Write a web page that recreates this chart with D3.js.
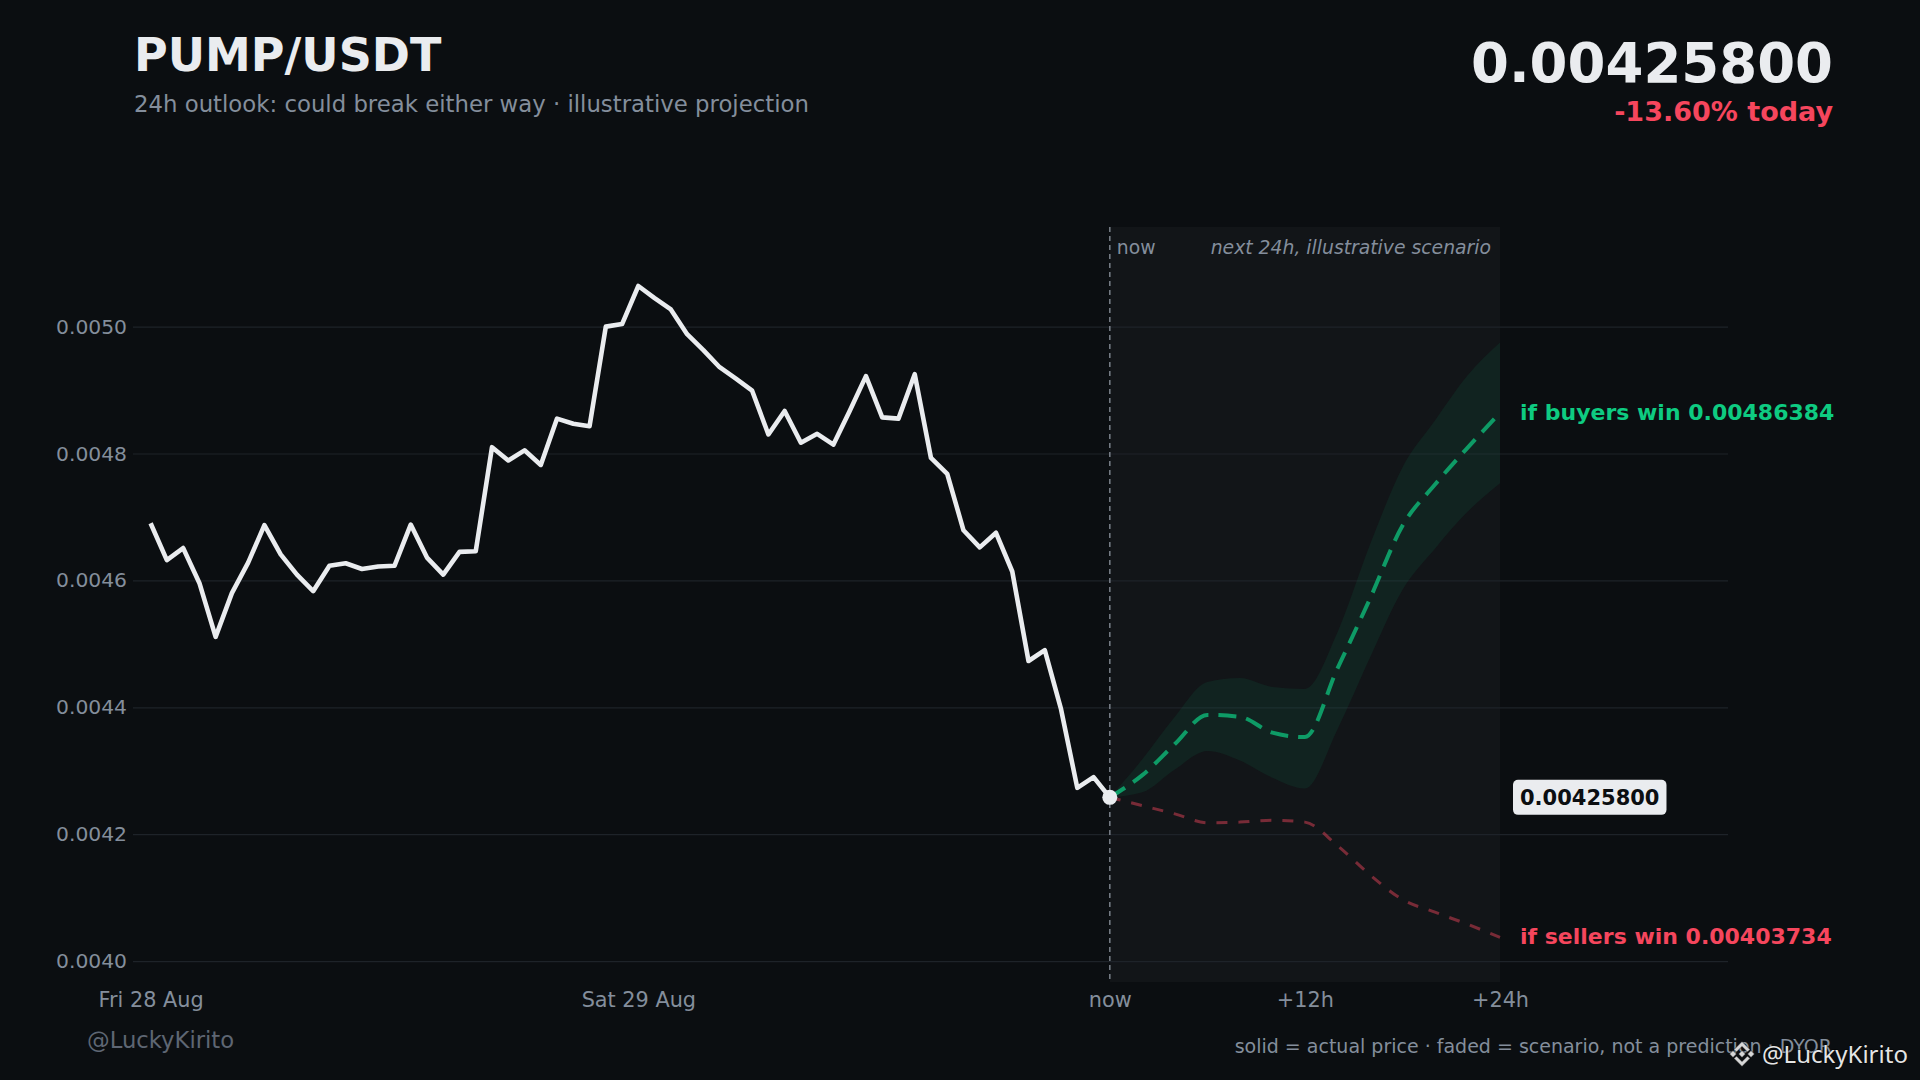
<!DOCTYPE html>
<html>
<head>
<meta charset="utf-8">
<script src="https://cdn.jsdelivr.net/npm/d3@7"></script>
<style>
  html, body { margin: 0; padding: 0; background: #0b0e11; }
  svg { display: block; font-family: "DejaVu Sans", sans-serif; }
</style>
</head>
<body>
<svg id="chart" width="1920" height="1080"></svg>
<script>
// actual price, one point per step up to "now"
var priceHistory = [
  0.004690, 0.004632, 0.004651, 0.004596, 0.004511, 0.004580, 0.004628, 0.004687, 0.004641, 0.004609,
  0.004583, 0.004623, 0.004627, 0.004618, 0.004622, 0.004623, 0.004688, 0.004636, 0.004609, 0.004645,
  0.004646, 0.004810, 0.004789, 0.004805, 0.004782, 0.004855, 0.004847, 0.004843, 0.005000, 0.005004,
  0.005064, 0.005045, 0.005027, 0.004988, 0.004963, 0.004936, 0.004918, 0.004899, 0.004830, 0.004867,
  0.004817, 0.004831, 0.004814, 0.004867, 0.004922, 0.004857, 0.004855, 0.004925, 0.004793, 0.004768,
  0.004679, 0.004652, 0.004675, 0.004614, 0.004473, 0.004490, 0.004397, 0.004273, 0.004290, 0.004258
];

// illustrative scenario, hours after now
var scenarioHours = [0, 2, 4, 6, 8, 10, 12, 14, 16, 18, 20, 22, 24];
var buyersMid  = [0.004258, 0.004293, 0.004342, 0.004388, 0.004385, 0.004360, 0.004353, 0.004461, 0.004571, 0.004686, 0.004751, 0.004809, 0.00486384];
var buyersHigh = [0.004258, 0.004318, 0.004385, 0.004440, 0.004446, 0.004432, 0.004429, 0.004518, 0.004656, 0.004778, 0.004852, 0.004923, 0.004975];
var buyersLow  = [0.004258, 0.004266, 0.004302, 0.004331, 0.004316, 0.004289, 0.004272, 0.004365, 0.004478, 0.004585, 0.004650, 0.004708, 0.004753];
var sellersMid = [0.004258, 0.004245, 0.004232, 0.004218, 0.004219, 0.004222, 0.004219, 0.004182, 0.004136, 0.004097, 0.004077, 0.004058, 0.00403734];

var yTicks = [0.0040, 0.0042, 0.0044, 0.0046, 0.0048, 0.0050];
var xTickIdx = [0, 30, 59, 71, 83];
var xTickLabels = ["Fri 28 Aug", "Sat 29 Aug", "now", "+12h", "+24h"];

var pair = "PUMP/USDT";
var changeToday = -13.60;

var green = "#0ecb81", red = "#f6465d", light = "#eaecef", muted = "#848e9c";

var svg = d3.select("#chart");
var plot = {left: 133, right: 1728, top: 227, bottom: 982};
var nowIdx = priceHistory.length - 1;
var lastIdx = nowIdx + scenarioHours[scenarioHours.length - 1];
var lastPrice = priceHistory[nowIdx];
var end = scenarioHours.length - 1;

var x = d3.scaleLinear().domain([0, lastIdx]).range([150.6, 1500]);
var y = d3.scaleLinear().domain([0.003967, 0.005157]).range([plot.bottom, plot.top]);

svg.append("rect").attr("width", 1920).attr("height", 1080).attr("fill", "#0b0e11");

  // shaded future window
svg.append("rect")
    .attr("x", x(nowIdx))
    .attr("y", plot.top)
    .attr("width", x(lastIdx) - x(nowIdx))
    .attr("height", plot.bottom - plot.top)
    .attr("fill", "#ffffff")
    .attr("fill-opacity", 0.03);

  // y axis + grid
var yAxis = svg.append("g")
    .attr("class", "axis left")
    .attr("transform", "translate(" + plot.left + ",0)")
    .call(d3.axisLeft(y).tickValues(yTicks).tickSize(-(plot.right - plot.left)).tickPadding(6).tickFormat(d3.format(".4f")));
yAxis.select(".domain").remove();
yAxis.attr("font-size", 20.3).attr("font-family", "DejaVu Sans");
yAxis.selectAll("line").attr("stroke", "#1e2329").attr("stroke-width", 1.2);
yAxis.selectAll("text").attr("fill", muted);

  // x axis, index based
var xAxis = svg.append("g")
    .attr("class", "axis bottom")
    .attr("transform", "translate(0," + plot.bottom + ")")
    .call(d3.axisBottom(x).tickValues(xTickIdx).tickSize(0).tickPadding(10)
      .tickFormat(function(d, i) { return xTickLabels[i]; }));
xAxis.select(".domain").remove();
xAxis.attr("font-size", 20.8).attr("font-family", "DejaVu Sans");
xAxis.selectAll("text").attr("fill", muted);

  // now marker
svg.append("line")
    .attr("x1", x(nowIdx)).attr("x2", x(nowIdx))
    .attr("y1", plot.top).attr("y2", plot.bottom)
    .attr("stroke", "#7a808a")
    .attr("stroke-width", 1.5)
    .attr("stroke-dasharray", "5,4");

svg.append("text")
    .attr("x", x(nowIdx) + 7).attr("y", 254)
    .attr("font-size", 18.8).attr("fill", muted)
    .text("now");

svg.append("text")
    .attr("x", x(lastIdx) - 9).attr("y", 254)
    .attr("font-size", 18.8).attr("font-style", "italic")
    .attr("text-anchor", "end").attr("fill", muted)
    .text("next 24h, illustrative scenario");

var scenario = scenarioHours.map(function(h, i) {
  return {h: h, mid: buyersMid[i], hi: buyersHigh[i], lo: buyersLow[i], sell: sellersMid[i]};
});
var sx = function(d) { return x(nowIdx + d.h); };

svg.append("path")
    .datum(scenario)
    .attr("fill", green)
    .attr("fill-opacity", 0.08)
    .attr("d", d3.area().x(sx).y0(function(d) { return y(d.lo); }).y1(function(d) { return y(d.hi); }).curve(d3.curveMonotoneX));

svg.append("path")
    .datum(scenario)
    .attr("fill", "none")
    .attr("stroke", red)
    .attr("stroke-opacity", 0.45)
    .attr("stroke-width", 3)
    .attr("stroke-dasharray", "11,11")
    .attr("d", d3.line().x(sx).y(function(d) { return y(d.sell); }).curve(d3.curveMonotoneX));

svg.append("path")
    .datum(scenario)
    .attr("fill", "none")
    .attr("stroke", green)
    .attr("stroke-opacity", 0.72)
    .attr("stroke-width", 4)
    .attr("stroke-dasharray", "18,10")
    .attr("d", d3.line().x(sx).y(function(d) { return y(d.mid); }).curve(d3.curveMonotoneX));

  // actual price
svg.append("path")
    .datum(priceHistory)
    .attr("fill", "none")
    .attr("stroke", light)
    .attr("stroke-width", 4.6)
    .attr("stroke-linejoin", "round")
    .attr("d", d3.line().x(function(d, i) { return x(i); }).y(function(d) { return y(d); }));

svg.append("circle")
    .attr("cx", x(nowIdx)).attr("cy", y(lastPrice))
    .attr("r", 7.5).attr("fill", light);

  // scenario end labels
svg.append("text")
    .attr("x", x(lastIdx) + 20).attr("y", y(buyersMid[end])).attr("dy", "0.3em")
    .attr("font-size", 22).attr("font-weight", "bold").attr("fill", green)
    .text("if buyers win " + buyersMid[end].toFixed(8));

svg.append("text")
    .attr("x", x(lastIdx) + 20).attr("y", y(sellersMid[end])).attr("dy", "0.3em")
    .attr("font-size", 22).attr("font-weight", "bold").attr("fill", red)
    .text("if sellers win " + sellersMid[end].toFixed(8));

  // last price tag
var tag = svg.append("g").attr("transform", "translate(" + (x(lastIdx) + 13) + "," + y(lastPrice) + ")");
var tagText = tag.append("text")
    .attr("x", 7).attr("dy", "0.36em")
    .attr("font-size", 21).attr("font-weight", "bold").attr("fill", "#0b0e11")
    .text(lastPrice.toFixed(8));
var tw = tagText.node().getBBox().width;
tag.insert("rect", "text")
    .attr("x", 0).attr("y", -17.5)
    .attr("width", tw + 14).attr("height", 35)
    .attr("rx", 5)
    .attr("fill", light);

  // header
svg.append("text")
    .attr("x", 134).attr("y", 71)
    .attr("font-size", 46).attr("font-weight", "bold").attr("fill", light)
    .text(pair);

svg.append("text")
    .attr("x", 134).attr("y", 112)
    .attr("font-size", 22.8).attr("fill", muted)
    .text("24h outlook: could break either way \u00b7 illustrative projection");

svg.append("text")
    .attr("x", 1833).attr("y", 82)
    .attr("text-anchor", "end")
    .attr("font-size", 54.5).attr("font-weight", "bold").attr("fill", light)
    .text(lastPrice.toFixed(8));

svg.append("text")
    .attr("x", 1833).attr("y", 121)
    .attr("text-anchor", "end")
    .attr("font-size", 27).attr("font-weight", "bold").attr("fill", red)
    .text(changeToday.toFixed(2) + "% today");

  // footer
svg.append("text")
    .attr("x", 87).attr("y", 1048)
    .attr("font-size", 22.7).attr("fill", "#5e6673")
    .text("@LuckyKirito");

svg.append("text")
    .attr("x", 1832).attr("y", 1053)
    .attr("text-anchor", "end")
    .attr("font-size", 19).attr("fill", muted)
    .text("solid = actual price \u00b7 faded = scenario, not a prediction \u00b7 DYOR");

  // watermark
var wm = svg.append("g").attr("transform", "translate(1742,1054)");
var logo = [
  [[0,-3.5],[3.5,0],[0,3.5],[-3.5,0]],
  [[-9,-3.5],[-5.5,0],[-9,3.5],[-12.5,0]],
  [[9,-3.5],[12.5,0],[9,3.5],[5.5,0]],
  [[0,-12.5],[8,-4.5],[5.5,-2],[0,-7.5],[-5.5,-2],[-8,-4.5]],
  [[0,12.5],[8,4.5],[5.5,2],[0,7.5],[-5.5,2],[-8,4.5]]
];
wm.selectAll("path")
    .data(logo)
    .enter().append("path")
    .attr("d", function(d) { return "M" + d.join("L") + "Z"; })
    .attr("fill", "#d6d6d6")
    .attr("stroke", "#000")
    .attr("stroke-opacity", 0.5)
    .attr("stroke-width", 1);
wm.append("text")
    .attr("x", 20).attr("y", 9)
    .attr("font-family", "Noto Sans")
    .attr("font-size", 24)
    .attr("fill", "#e4e4e4")
    .attr("stroke", "#000").attr("stroke-opacity", 0.5).attr("stroke-width", 1.5)
    .attr("paint-order", "stroke")
    .text("@LuckyKirito");
</script>
</body>
</html>
